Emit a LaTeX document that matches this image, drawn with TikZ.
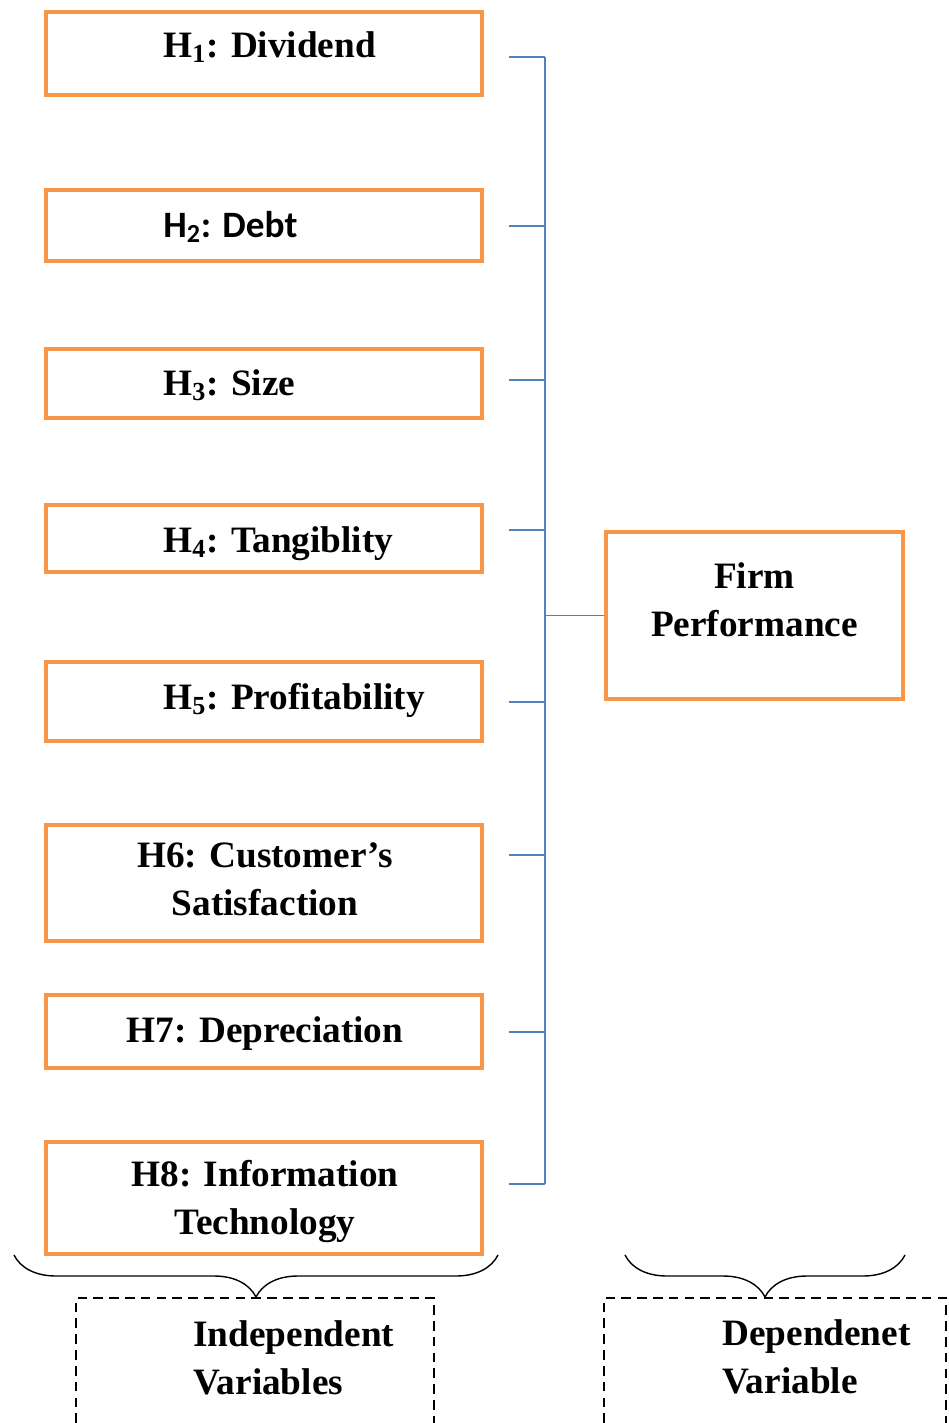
\documentclass[tikz,border=0pt]{standalone}
\usepackage{fontspec}
\setmainfont{Liberation Serif}
\newfontfamily\carlito{Carlito}
\usetikzlibrary{positioning}
\usetikzlibrary{decorations.pathreplacing}
\definecolor{boxorange}{HTML}{F79646}
\definecolor{linkblue}{HTML}{4F81BD}

\begin{document}
\begin{tikzpicture}
      [
      x=0.02cm, y=-0.02cm,
      hyp/.style={rectangle,draw=boxorange,line width=2.4pt,minimum width=8.72cm,inner sep=0pt},
      txt/.style={inner sep=0pt,font=\fontsize{21.2}{27.2}\selectfont\bfseries},
      link/.style={draw=linkblue,line width=0.85pt},
      group/.style={decorate,decoration={brace,mirror,amplitude=0.84cm},line width=0.8pt},
      frame/.style={dash pattern=on 5.5pt off 3.5pt,line width=1.3pt}
      ]
      \useasboundingbox (0,0) rectangle (948,1423);
      \node (h1) at (264,53.5) [hyp,minimum height=1.66cm] {};
      \node (h2) at (264,225.5) [hyp,minimum height=1.42cm] {};
      \node (h3) at (264,383.5) [hyp,minimum height=1.38cm] {};
      \node (h4) at (264,538.5) [hyp,minimum height=1.34cm] {};
      \node (h5) at (264,701.5) [hyp,minimum height=1.58cm] {};
      \node (h6) at (264,883) [hyp,minimum height=2.32cm] {};
      \node (h7) at (264,1031.5) [hyp,minimum height=1.46cm] {};
      \node (h8) at (264,1198) [hyp,minimum height=2.24cm] {};
      \node (fp) at (754.5,615.5) [hyp,minimum width=5.94cm,minimum height=3.34cm] {};
      \node (t1) at (163,57) [txt,anchor=base west] {H\textsubscript{1}: Dividend};
      \node (t2) at (163,237) [txt,anchor=base west] {\carlito H\textsubscript{2}: Debt};
      \node (t3) at (163,395) [txt,anchor=base west] {H\textsubscript{3}: Size};
      \node (t4) at (163,552) [txt,anchor=base west] {H\textsubscript{4}: Tangiblity};
      \node (t5) at (163,709) [txt,anchor=base west] {H\textsubscript{5}: Profitability};
      \node (t6) at (265,915) [txt,anchor=base,align=center] {H6: Customer’s\\Satisfaction};
      \node (t7) at (265,1042) [txt,anchor=base] {H7: Depreciation};
      \node (t8) at (265,1234) [txt,anchor=base,align=center] {H8: Information\\Technology};
      \node (tfp) at (754.5,636) [txt,anchor=base,align=center] {Firm\\Performance};
      \coordinate (bus) at (545,0);
      \foreach \y [count=\i] in {57,226,380,530,702,855,1032,1184}
        \coordinate (s\i) at (509,\y);
      \foreach \i in {1,...,8}
        \draw [link] (s\i) -- (s\i -| bus);
      \draw [link] (s1 -| bus) -- (s8 -| bus);
      \draw [link] (fp.west -| bus) -- (fp.west);
      \coordinate (b1) at (14,1255);
      \coordinate (b2) at (498,1255);
      \coordinate (b3) at (625,1255);
      \coordinate (b4) at (905,1255);
      \draw [group] (b1) -- (b2);
      \draw [group] (b3) -- (b4);
      \draw [frame] (76,1423) -- (76,1298) -- (434,1298) -- (434,1423);
      \draw [frame] (604,1423) -- (604,1298) -- (946,1298) -- (946,1423);
      \node (iv) at (193,1394) [txt,anchor=base west,align=left] {Independent\\Variables};
      \node (dv) at (722,1393) [txt,anchor=base west,align=left] {Dependenet\\Variable};
\end{tikzpicture}
\end{document}
